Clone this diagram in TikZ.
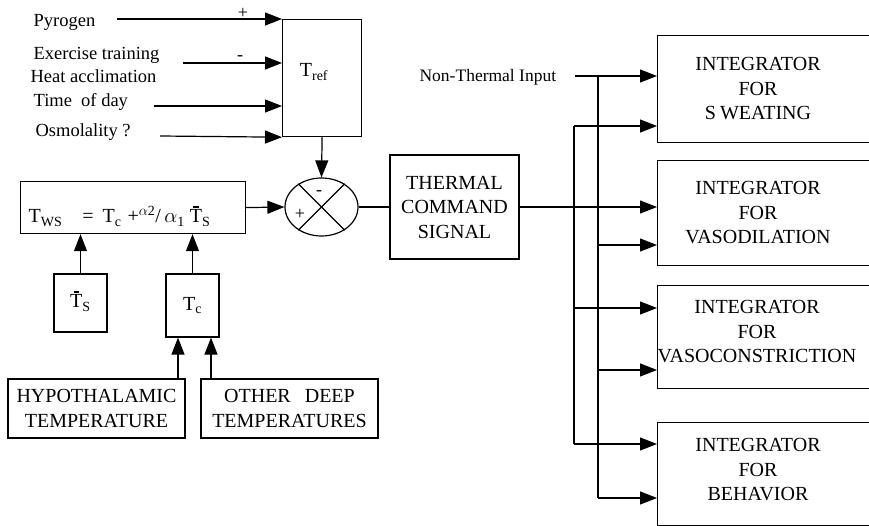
\documentclass[tikz,border=0pt]{standalone}
\usepackage{fontspec}
\setmainfont{Liberation Serif}
\usetikzlibrary{arrows.meta,shapes.geometric}
\newcommand{\Tbr}{{\ooalign{T\cr\hidewidth\raisebox{0.76em}{\rule{0.28em}{0.07em}}\hidewidth\cr}}}
\begin{document}
\begin{tikzpicture}[x=1pt,y=-1pt, line width=1.2pt,
  arr/.style={-{Triangle[length=17pt,width=13pt]}},
  box/.style={draw, inner sep=0pt},
  txt/.style={font=\fontsize{20}{24.5}\selectfont, align=center, inner sep=0pt},
  lbl/.style={font=\fontsize{18.5}{22}\selectfont, inner sep=0pt, anchor=base west},
  sgn/.style={font=\fontsize{18}{18}\selectfont, inner sep=0pt}
]
\useasboundingbox (0,0) rectangle (869,526);

% ---- T_ref block and inputs
\node[box, minimum width=79pt, minimum height=117pt, anchor=north west] (tref) at (282,19) {};
\node[txt] (treft) at (314,72) {T\textsubscript{ref}};

\node[lbl] (pyro) at (33,27) {Pyrogen};
\node[lbl] (exer) at (33,60) {Exercise training};
\node[lbl] (heat) at (30,83) {Heat acclimation};
\node[lbl] (tod)  at (33,107) {Time\ \ of day};
\node[lbl] (osm)  at (35,137) {Osmolality ?};

\coordinate (p0) at (117,19);
\coordinate (e0) at (183,63);
\coordinate (t0) at (154,106);
\coordinate (o0) at (160,136);
\draw[arr] (p0) -- (tref.north west);
\draw[arr] (e0) -- (e0 -| tref.west);
\draw[arr] (t0) -- (t0 -| tref.west);
\draw[arr] (o0) -- (tref.south west);
\node[sgn] (plus1) at (243,13) {+};
\node[sgn] (minus1) at (240,58) {-};

% ---- T_ws block
\node[box, minimum width=225pt, minimum height=52pt, anchor=north west] (tws) at (20,181) {};
\node[font=\fontsize{20}{24}\selectfont, inner sep=0pt, anchor=base west] (twst) at (28,223)
  {T\textsubscript{WS}\hspace{20pt}=\hspace{9pt}T\textsubscript{c}\hspace{6pt}+\textsuperscript{$\alpha$2}/\,$\alpha$\textsubscript{1}\hspace{5pt}\Tbr\textsubscript{S}};

\node[box, txt, minimum width=53pt, minimum height=58pt] (ts) at (80.5,303) {\Tbr\textsubscript{S}};
\node[box, txt, minimum width=53pt, minimum height=63pt] (tc) at (192.5,305.5) {T\textsubscript{c}};
\draw[arr] (ts.north) -- (ts.north |- tws.south);
\draw[arr] (tc.north) -- (tc.north |- tws.south);

\node[box, txt, minimum width=177pt, minimum height=59pt] (hypo) at (96.5,408.5) {HYPOTHALAMIC\\TEMPERATURE};
\node[box, txt, minimum width=177pt, minimum height=59pt] (other) at (289.5,408.5) {OTHER\hspace{14pt}DEEP\\TEMPERATURES};
\draw[arr] ([xshift=-14.5pt]tc.south |- hypo.north) -- ([xshift=-14.5pt]tc.south);
\draw[arr] ([xshift=18.5pt]tc.south |- other.north) -- ([xshift=18.5pt]tc.south);

% ---- summing junction
\node[draw, ellipse, minimum width=73pt, minimum height=58pt, inner sep=0pt] (sum) at (321.5,207) {};
\draw (sum.45) -- (sum.225);
\draw (sum.135) -- (sum.315);
\node[sgn] (sm) at (319,193) {-};
\node[sgn] (sp) at (300,214) {+};
\draw[arr] (tref.south) -- (sum.north);
\draw[arr] (tws.east) -- (sum.west);

% ---- thermal command signal
\node[box, txt, minimum width=129pt, minimum height=104pt] (thermal) at (454.5,207) {THERMAL\\COMMAND\\SIGNAL};
\draw (sum.east) -- (thermal.west);

% ---- integrators
\begin{scope}
\clip (0,0) rectangle (869,526);
\node[box, minimum width=230pt, minimum height=107pt, anchor=north west] (sw) at (657,35) {};
\node[box, minimum width=230pt, minimum height=105pt, anchor=north west] (vd) at (657,160) {};
\node[box, minimum width=230pt, minimum height=103pt, anchor=north west] (vc) at (657,285) {};
\node[box, minimum width=230pt, minimum height=103pt, anchor=north west] (bh) at (657,422) {};
\end{scope}
\node[txt] (swt) at (758,89) {INTEGRATOR\\FOR\\S\kern4pt WEATING};
\node[txt] (vdt) at (758,213) {INTEGRATOR\\FOR\\VASODILATION};
\node[txt] (vct) at (757,332) {INTEGRATOR\\FOR\\VASOCONSTRICTION};
\node[txt] (bht) at (758,470) {INTEGRATOR\\FOR\\BEHAVIOR};

\node[lbl, font=\fontsize{17.5}{20}\selectfont] (nti) at (419,82) {Non-Thermal Input};

% ---- distribution buses
\coordinate (nt0) at (575,76);
\coordinate (ba) at (574,126);
\coordinate (ba1) at (574,308);
\coordinate (bab) at (574,444);
\coordinate (bb) at (598,76);
\coordinate (bb1) at (598,245);
\coordinate (bb2) at (598,370);
\coordinate (bbb) at (598,498);
\draw (ba) -- (bab);
\draw (bb) -- (bbb);
\draw[arr] (nt0) -- (nt0 -| sw.west);
\draw[arr] (ba) -- (ba -| sw.west);
\draw[arr] (thermal.east) -- (thermal.east -| vd.west);
\draw[arr] (bb1) -- (bb1 -| vd.west);
\draw[arr] (ba1) -- (ba1 -| vc.west);
\draw[arr] (bb2) -- (bb2 -| vc.west);
\draw[arr] (bab) -- (bab -| bh.west);
\draw[arr] (bbb) -- (bbb -| bh.west);
\end{tikzpicture}
\end{document}
